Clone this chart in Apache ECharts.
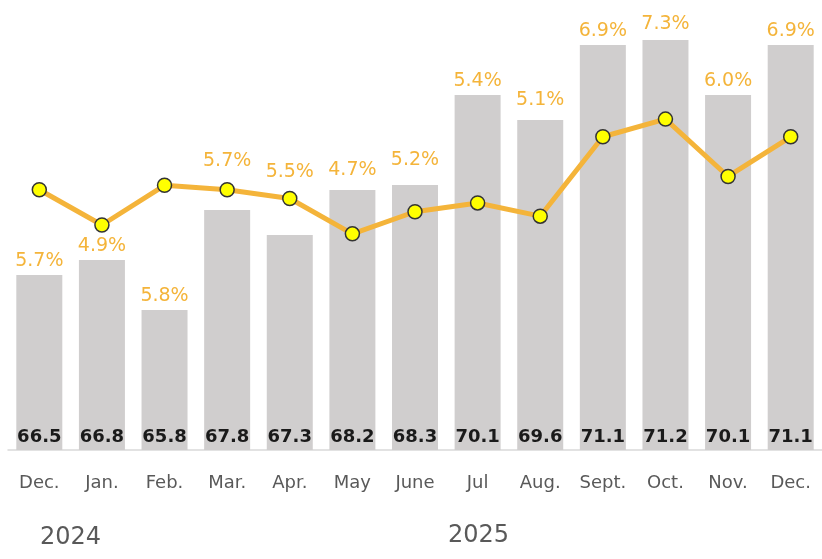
<!DOCTYPE html>
<html>
<head>
<meta charset="utf-8">
<script src="https://cdn.jsdelivr.net/npm/echarts@6/dist/echarts.min.js"></script>
<style>
  html, body { margin: 0; padding: 0; background: #fff; }
  #chart { width: 822px; height: 559px; }
</style>
</head>
<body>
<div id="chart"></div>
<script>
const months = ['Dec.', 'Jan.', 'Feb.', 'Mar.', 'Apr.', 'May', 'June', 'Jul', 'Aug.', 'Sept.', 'Oct.', 'Nov.', 'Dec.'];
const values = [66.5, 66.8, 65.8, 67.8, 67.3, 68.2, 68.3, 70.1, 69.6, 71.1, 71.2, 70.1, 71.1];
const pct = [5.7, 4.9, 5.8, 5.7, 5.5, 4.7, 5.2, 5.4, 5.1, 6.9, 7.3, 6.0, 6.9];
const years = ['2024', '2025'];

// extra lift (px) of some % labels so they clear the line, as in the original
const labelLift = [0, 0, 0, 35, 49, 6, 11, 0, 6, 0, 2, 0, 0];

const FONT = 'DejaVu Sans';
const ORANGE = '#f4b43a';

const chart = echarts.init(document.getElementById('chart'));
chart.setOption({
  animation: false,
  grid: { left: 8, top: 0, width: 818, height: 450 },
  xAxis: {
    type: 'category',
    data: months,
    axisLine: { onZero: false, lineStyle: { color: '#d9d9d9', width: 1.5 } },
    axisTick: { length: 8, lineStyle: { color: '#d9d9d9', width: 1.5 } },
    axisLabel: { color: '#595959', fontFamily: FONT, fontSize: 18, margin: 24, interval: 0 }
  },
  yAxis: [
    { type: 'value', min: 63, max: 72, show: false },
    { type: 'value', min: -0.2, max: 10, show: false }
  ],
  series: [
    {
      // bars with % label on top
      type: 'bar',
      data: values.map((v, i) => ({ value: v, label: { offset: [0, -labelLift[i]] } })),
      barWidth: 46,
      itemStyle: { color: '#d0cece' },
      label: {
        show: true,
        position: 'top',
        distance: 4,
        color: ORANGE,
        fontFamily: FONT,
        fontSize: 19,
        formatter: p => pct[p.dataIndex].toFixed(1) + '%'
      }
    },
    {
      // overlay only for the value label at the bottom
      type: 'bar',
      data: values,
      barWidth: 46,
      barGap: '-100%',
      itemStyle: { color: 'rgba(0,0,0,0)' },
      label: {
        show: true,
        position: 'insideBottom',
        distance: 4,
        color: '#1a1a1a',
        fontFamily: FONT,
        fontWeight: 'bold',
        fontSize: 18,
        formatter: p => p.value.toFixed(1)
      }
    },
    {
      type: 'line',
      yAxisIndex: 1,
      data: pct,
      lineStyle: { color: ORANGE, width: 5 },
      symbol: 'circle',
      symbolSize: 14,
      itemStyle: { color: '#ffff00', borderColor: '#333', borderWidth: 1.5 },
      z: 5
    }
  ],
  graphic: [
    { type: 'text', left: 40, top: 526, style: { text: years[0], fill: '#595959', font: '24px "DejaVu Sans"' } },
    { type: 'text', left: 448, top: 524, style: { text: years[1], fill: '#595959', font: '24px "DejaVu Sans"' } }
  ]
});
</script>
</body>
</html>
